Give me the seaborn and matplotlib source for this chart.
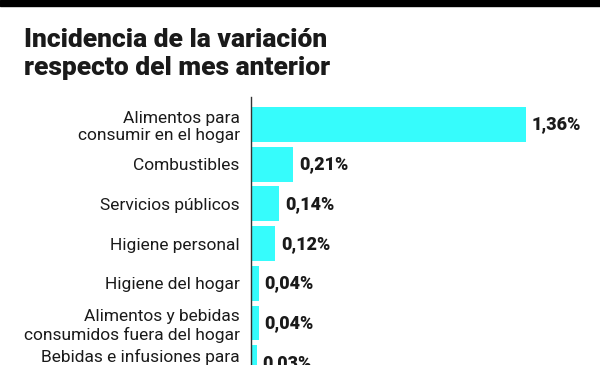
import matplotlib
matplotlib.use("Agg")

import matplotlib.pyplot as plt
import pandas as pd
import seaborn as sns
from matplotlib.patches import Rectangle

rubros = [
    "Alimentos para\nconsumir en el hogar",
    "Combustibles",
    "Servicios públicos",
    "Higiene personal",
    "Higiene del hogar",
    "Alimentos y bebidas\nconsumidos fuera del hogar",
    "Bebidas e infusiones para\nconsumir en el hogar",
]
incidencia = [1.36, 0.21, 0.14, 0.12, 0.04, 0.04, 0.03]

titulo = "Incidencia de la variación\nrespecto del mes anterior"
CYAN = "#36FCFC"
INK = "#1a1a1a"

df = pd.DataFrame({"rubro": rubros, "valor": incidencia})

sns.set_theme(style="white")
plt.rcParams["font.family"] = ["Roboto", "DejaVu Sans"]

fig = plt.figure(figsize=(6, 3.65), dpi=100)
ax = fig.add_axes([0.4183, 0.0, 0.5817, 0.734])

sns.barplot(data=df, x="valor", y="rubro", color=CYAN, saturation=1,
            width=0.88, linewidth=0, ax=ax)

labels = [f"{v:.2f}".replace(".", ",") + "%" for v in df["valor"]]
ax.bar_label(ax.containers[0], labels=labels, padding=4,
             fontsize=13, fontweight="heavy", color=INK)

ax.set_xlim(0, 1.728)
ax.set_ylim(6.058, -0.693)
ax.set_xlabel("")
ax.set_ylabel("")
ax.set_xticks([])
ax.tick_params(axis="y", length=0, pad=8, labelsize=12.5, labelcolor=INK)
for lab in ax.get_yticklabels():
    lab.set_linespacing(1.2)
for side in ["top", "right", "bottom"]:
    ax.spines[side].set_visible(False)
ax.spines["left"].set_color("#333333")
ax.spines["left"].set_linewidth(1.0)

# black band across the top
fig.patches.append(Rectangle((0, 1 - 6 / 365), 1, 6 / 365,
                             transform=fig.transFigure, color="black",
                             zorder=5))

fig.text(24 / 600, 1 - 28 / 365, titulo, ha="left", va="top",
         fontsize=19, fontweight="heavy", color=INK, linespacing=1.2)

fig.savefig("out.png", dpi=100)
